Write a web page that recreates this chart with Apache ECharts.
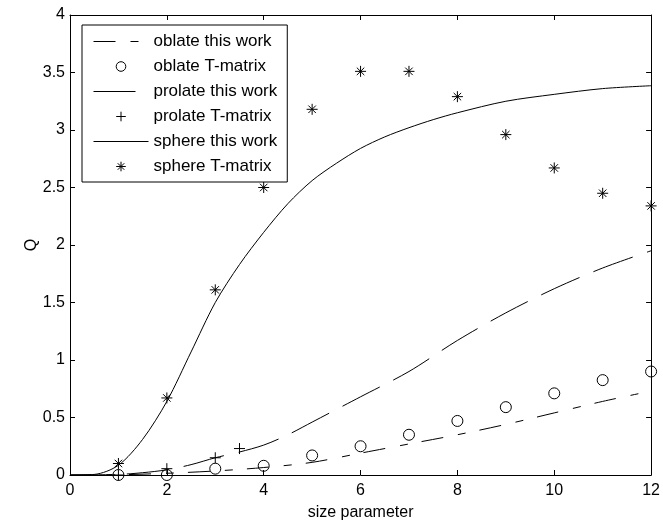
<!DOCTYPE html>
<html>
<head>
<meta charset="utf-8">
<script src="https://cdn.jsdelivr.net/npm/echarts@6/dist/echarts.min.js"></script>
<style>
  html, body { margin: 0; padding: 0; background: #fff; }
  #chart { width: 663px; height: 526px; }
</style>
</head>
<body>
<div id="chart"></div>
<script>
// 计算曲线 (this work)
const sphereX = [0, 0.5, 1, 1.5, 2, 2.5, 3, 3.5, 4, 4.5, 5, 5.5, 6, 6.5, 7, 7.5, 8, 9, 10, 11, 12]
const sphereY = [0, 0.005, 0.085, 0.31, 0.64, 1.07, 1.5, 1.83, 2.11, 2.36, 2.56, 2.71, 2.84, 2.94, 3.02, 3.09, 3.15, 3.25, 3.31, 3.36, 3.385]
const prolateX = [0, 1, 1.5, 2, 2.5, 3, 3.5, 4, 4.5, 5, 6, 7, 8, 9, 10, 11, 12]
const prolateY = [0, 0.005, 0.02, 0.045, 0.09, 0.15, 0.2, 0.26, 0.35, 0.46, 0.68, 0.9, 1.17, 1.41, 1.62, 1.8, 1.95]
const oblateX = [0, 1, 2, 3, 4, 5, 6, 7, 8, 9, 10, 11, 12]
const oblateY = [0, 0.002, 0.015, 0.035, 0.065, 0.11, 0.19, 0.27, 0.35, 0.44, 0.54, 0.64, 0.73]

// T-matrix 点
const oblateTX = [1, 2, 3, 4, 5, 6, 7, 8, 9, 10, 11, 12]
const oblateTY = [0, 0, 0.055, 0.08, 0.17, 0.25, 0.35, 0.47, 0.59, 0.71, 0.825, 0.9]
const prolateTX = [1, 2, 3, 3.5]
const prolateTY = [0, 0.055, 0.15, 0.23]
const sphereTX = [1, 2, 3, 4, 5, 6, 7, 8, 9, 10, 11, 12]
const sphereTY = [0.1, 0.67, 1.61, 2.5, 3.18, 3.51, 3.51, 3.29, 2.96, 2.67, 2.45, 2.34]

const names = ['oblate this work', 'oblate T-matrix', 'prolate this work', 'prolate T-matrix', 'sphere this work', 'sphere T-matrix']

const FONT = 'Liberation Sans, Arial, sans-serif'

function pairs (xs, ys) {
  return xs.map((x, i) => [x, ys[i]])
}

const curve = (name, xs, ys, type) => ({
  name: name,
  type: 'line',
  data: pairs(xs, ys),
  symbol: 'none',
  smooth: 0.3,
  clip: false,
  lineStyle: { color: '#000', width: 1, type: type },
  itemStyle: { color: '#000' },
  z: 2
})

const marks = (name, xs, ys, symbol, size) => ({
  name: name,
  type: 'line',
  data: pairs(xs, ys),
  symbol: symbol,
  symbolSize: size,
  showSymbol: true,
  clip: false,
  lineStyle: { color: '#000', width: 1, opacity: 0 },
  itemStyle: { color: 'none', borderColor: '#000', borderWidth: 1 },
  z: 3
})

const circlePath = 'path://M10,5A5,5 0 1 1 0,5A5,5 0 1 1 10,5Z'
const crossPath = 'path://M5,0L5,10M0,5L10,5'
const starPath = 'path://M5,0L5,10M0,5L10,5M1.6,1.6L8.4,8.4M1.6,8.4L8.4,1.6'

const frameAxis = {
  axisLine: { show: true, onZero: false, lineStyle: { color: '#000', width: 1 } },
  axisTick: { show: true, inside: true, length: 5, lineStyle: { color: '#000' } },
  splitLine: { show: false }
}

// 曲线的图例不画点
const legendData = names.map((n, i) => i % 2 === 0 ? { name: n, itemStyle: { opacity: 0 } } : { name: n })

const chart = echarts.init(document.getElementById('chart'), null, { renderer: 'canvas' })
chart.setOption({
  backgroundColor: '#fff',
  animation: false,
  textStyle: { fontFamily: FONT },
  grid: { left: 70, right: 8, top: 15, bottom: 49 },
  legend: {
    data: legendData,
    orient: 'vertical',
    left: 82,
    top: 25,
    padding: [8, 10, 7, 11],
    itemGap: 8,
    itemWidth: 55,
    itemHeight: 12,
    backgroundColor: '#fff',
    borderColor: '#000',
    borderWidth: 1,
    borderRadius: 0,
    selectedMode: false,
    lineStyle: { width: 1 },
    itemStyle: { borderWidth: 1 },
    textStyle: { fontFamily: FONT, fontSize: 17, color: '#000', lineHeight: 17 }
  },
  xAxis: [
    Object.assign({
      type: 'value', min: 0, max: 12, interval: 2, position: 'bottom',
      name: 'size parameter', nameLocation: 'middle', nameGap: 30, nameMoveOverlap: false,
      nameTextStyle: { fontFamily: FONT, fontSize: 16, color: '#000' },
      axisLabel: { color: '#000', fontFamily: FONT, fontSize: 16, margin: 8 }
    }, frameAxis),
    Object.assign({
      type: 'value', min: 0, max: 12, interval: 2, position: 'top',
      axisLabel: { show: false }
    }, frameAxis)
  ],
  yAxis: [
    Object.assign({
      type: 'value', min: 0, max: 4, interval: 0.5, position: 'left',
      name: 'Q', nameLocation: 'middle', nameGap: 30, nameMoveOverlap: false,
      nameTextStyle: { fontFamily: FONT, fontSize: 16, color: '#000' },
      axisLabel: { color: '#000', fontFamily: FONT, fontSize: 16, margin: 5 }
    }, frameAxis),
    Object.assign({
      type: 'value', min: 0, max: 4, interval: 0.5, position: 'right',
      axisLabel: { show: false }
    }, frameAxis)
  ],
  series: [
    curve(names[0], oblateX, oblateY, [22, 15, 8, 14]),
    marks(names[1], oblateTX, oblateTY, circlePath, 11),
    curve(names[2], prolateX, prolateY, [42, 15]),
    marks(names[3], prolateTX, prolateTY, crossPath, 11),
    curve(names[4], sphereX, sphereY, 'solid'),
    marks(names[5], sphereTX, sphereTY, starPath, 11)
  ]
})
</script>
</body>
</html>
